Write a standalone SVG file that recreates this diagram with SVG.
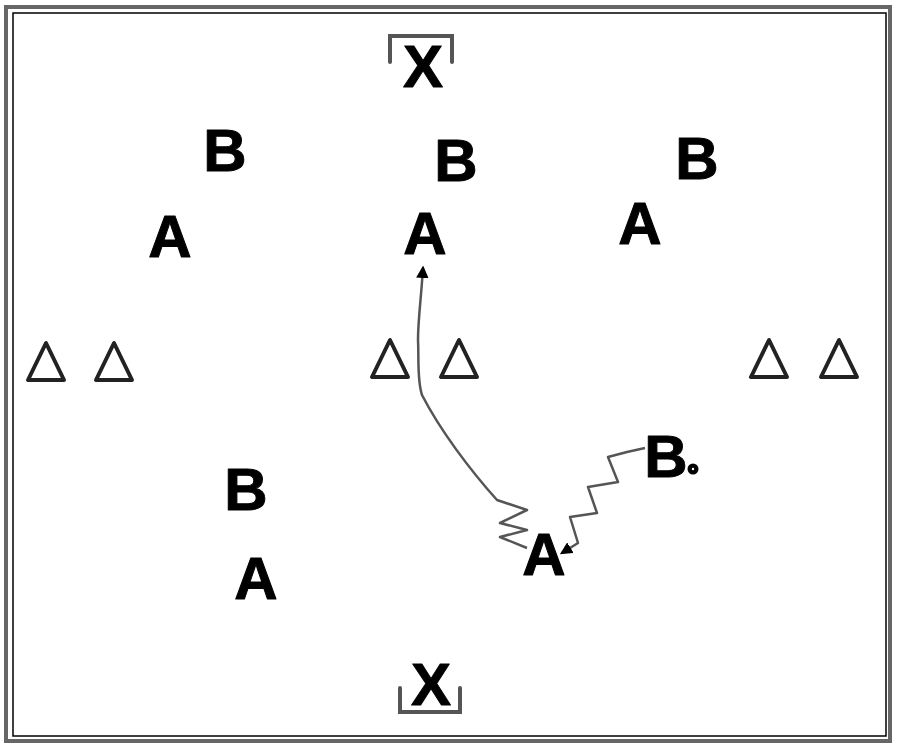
<svg xmlns="http://www.w3.org/2000/svg" width="900" height="747" viewBox="0 0 900 747">
<style>
.lbl{font-family:"Liberation Sans",Arial,sans-serif;font-weight:bold;font-size:60px;fill:#000;text-anchor:middle;stroke:#000;stroke-width:1;stroke-linejoin:round}
.cone{fill:none;stroke:#222;stroke-width:4;stroke-linejoin:round}
.brk{fill:none;stroke:#555;stroke-width:4;stroke-linecap:round}
.path{fill:none;stroke:#555;stroke-width:2.5;stroke-linejoin:round}
</style>
<defs>
<marker id="ah" viewBox="0 0 10 10" refX="8" refY="5" markerWidth="5" markerHeight="5" orient="auto">
<path d="M0,0 L10,5 L0,10 z" fill="#000"/>
</marker>
</defs>
<rect width="900" height="747" fill="#fff"/>
<rect x="6" y="7" width="884" height="734" fill="none" stroke="#666" stroke-width="4"/>
<rect x="13" y="13" width="873" height="723" fill="none" stroke="#000" stroke-width="1.5"/>

<g id="goal-top">
<path class="brk" d="M390,62 V36 H452 V62"/>
<text class="lbl" x="423" y="87">X</text>
</g>
<g id="goal-bottom">
<path class="brk" d="M400,688 V712 H460 V688"/>
<text class="lbl" x="431" y="705">X</text>
</g>

<g id="b1"><text class="lbl" x="225" y="171">B</text></g>
<g id="b2"><text class="lbl" x="456" y="181">B</text></g>
<g id="b3"><text class="lbl" x="697" y="179">B</text></g>
<g id="a1"><text class="lbl" x="170" y="257">A</text></g>
<g id="a2"><text class="lbl" x="425" y="254">A</text></g>
<g id="a3"><text class="lbl" x="640" y="244">A</text></g>
<g id="b4"><text class="lbl" x="246" y="510">B</text></g>
<g id="a4"><text class="lbl" x="256" y="599">A</text></g>
<g id="a5"><text class="lbl" x="544" y="575">A</text></g>
<g id="b5">
<text class="lbl" x="666" y="477">B</text>
<circle cx="693" cy="469" r="5.5" fill="#000"/>
<circle cx="693" cy="469" r="1.2" fill="#fff"/>
</g>

<g id="cones">
<path class="cone" d="M46,343 L28,380 L64,380 Z"/>
<path class="cone" d="M114,343 L96,380 L132,380 Z"/>
<path class="cone" d="M390,340 L372,377 L408,377 Z"/>
<path class="cone" d="M459,340 L441,377 L477,377 Z"/>
<path class="cone" d="M769,340 L751,377 L787,377 Z"/>
<path class="cone" d="M839,340 L821,377 L857,377 Z"/>
</g>

<g id="connectors">
<path class="path" marker-end="url(#ah)" d="M527,548 L500,537 L527,530 L500,523 L527,510 L497,500 C470,470 440,430 422,395 C417,380 419,360 418,340 C418,320 421,300 423,268"/>
<path class="path" marker-end="url(#ah)" d="M645,448 L627,452 L608,457 L618,482 L588,487 L597,513 L570,517 L578,543 L562,553"/>
</g>
</svg>
